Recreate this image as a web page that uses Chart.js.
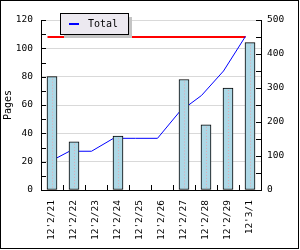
<!DOCTYPE html>
<html><head><meta charset="utf-8">
<script src="https://cdn.jsdelivr.net/npm/chart.js@4.4.1/dist/chart.umd.min.js"></script>
<style>
html,body{margin:0;padding:0;background:#fff;}
#wrap{position:relative;width:300px;height:250px;overflow:hidden;}
canvas{position:absolute;left:0;top:0;}
#frame{position:absolute;left:0;top:0;width:299px;height:249px;box-sizing:border-box;border:1px solid #000;pointer-events:none;}
</style></head><body>
<div id="wrap"><canvas id="c" width="300" height="250"></canvas><div id="frame"></div></div>
<script>
// ---- data ----
const categories = ["12'2/21","12'2/22","12'2/23","12'2/24","12'2/25","12'2/26","12'2/27","12'2/28","12'2/29","12'3/1"];
const pages  = [80, 34, null, 38, null, null, 78, 46, 72, 104];   // bars, left axis
const total  = [80, 114, 114, 152, 152, 152, 230, 278, 350, 452]; // blue line, right axis
const target = [450, 450, 450, 450, 450, 450, 450, 450, 450, 450]; // red line, right axis
const leftTickLabels  = [0, 20, 40, 60, 80, 100, 120];
const rightTickLabels = [0, 100, 200, 300, 400, 500];

const FONT = {family: "'DejaVu Sans Mono', monospace", size: 9.5};
Chart.defaults.font.family = FONT.family;
Chart.defaults.font.size = 9.5;
Chart.defaults.color = '#000';

const BAR_W = 10;

const extras = {
  id: 'extras',
  beforeDatasetDraw(chart, args) {
    if (chart.data.datasets[args.index].type === 'line') {
      chart.ctx.save();
      chart.ctx.translate(-BAR_W / 2 + 0.5, 0); // lines are anchored at the bar's left edge
    }
  },
  afterDatasetDraw(chart, args) {
    if (chart.data.datasets[args.index].type === 'line') chart.ctx.restore();
  },
  afterDatasetsDraw(chart) {
    const ctx = chart.ctx;
    const meta = chart.getDatasetMeta(2);
    ctx.save();
    ctx.strokeStyle = '#e3a9b3';
    ctx.lineWidth = 1;
    ctx.setLineDash([1, 2]);
    meta.data.forEach((el, i) => {
      if (pages[i] == null) return;
      const x = Math.round(el.x) + 0.5;
      ctx.beginPath();
      ctx.moveTo(x, el.y + 2);
      ctx.lineTo(x, el.base - 1);
      ctx.stroke();
    });
    ctx.restore();
  },
  afterDraw(chart) {
    const ctx = chart.ctx;
    const {left, right, bottom} = chart.chartArea;
    ctx.save();
    ctx.strokeStyle = '#000';
    ctx.lineWidth = 1;
    const y = chart.scales.y, y1 = chart.scales.y1, x = chart.scales.x;
    y.ticks.forEach(t => {
      const py = Math.round(y.getPixelForValue(t.value)) + 0.5;
      ctx.beginPath(); ctx.moveTo(left, py); ctx.lineTo(left + 5, py); ctx.stroke();
    });
    y1.ticks.forEach(t => {
      const py = Math.round(y1.getPixelForValue(t.value)) + 0.5;
      ctx.beginPath(); ctx.moveTo(right - 5, py); ctx.lineTo(right, py); ctx.stroke();
    });
    for (let i = 1; i < categories.length; i++) {
      const px = Math.round((x.getPixelForTick(i - 1) + x.getPixelForTick(i)) / 2) + 0.5;
      ctx.beginPath(); ctx.moveTo(px, bottom - 5); ctx.lineTo(px, bottom); ctx.stroke();
    }
    // legend
    const lx = 60, ly = 13, lw = 68, lh = 21;
    ctx.fillStyle = '#c4c4c4';
    ctx.fillRect(lx + 4, ly + 4, lw, lh);
    ctx.fillStyle = '#ece9f0';
    ctx.fillRect(lx, ly, lw, lh);
    ctx.strokeRect(lx + 0.5, ly + 0.5, lw, lh);
    const ds = chart.data.datasets[0];
    ctx.fillStyle = ds.borderColor;
    ctx.fillRect(lx + 9, ly + 10, 10, 2);
    ctx.fillStyle = '#000';
    ctx.font = "10px 'DejaVu Sans Mono'";
    ctx.textBaseline = 'middle';
    ctx.textAlign = 'left';
    ctx.fillText(ds.label, lx + 28, ly + 11);
    ctx.restore();
  }
};

new Chart(document.getElementById('c'), {
  type: 'bar',
  data: {
    labels: categories,
    datasets: [
      {type: 'line', label: 'Total', data: total,
       xAxisID: 'x', yAxisID: 'y1', borderColor: '#0000ff', borderWidth: 1,
       pointRadius: 0, tension: 0, fill: false, order: 2},
      {type: 'line', label: 'Target', data: target,
       xAxisID: 'x', yAxisID: 'y1', borderColor: '#ff0000', borderWidth: 2,
       pointRadius: 0, tension: 0, fill: false, order: 2},
      {type: 'bar', label: 'Pages', data: pages, xAxisID: 'x', yAxisID: 'y',
       backgroundColor: '#add8e6', borderColor: '#000', borderWidth: 1,
       borderSkipped: false, barThickness: BAR_W, order: 1}
    ]
  },
  options: {
    responsive: false,
    animation: false,
    devicePixelRatio: 1,
    layout: {padding: {top: 20, left: 0, right: 0, bottom: 0}},
    plugins: {legend: {display: false}, tooltip: {enabled: false}},
    scales: {
      x: {
        type: 'category', offset: true,
        grid: {display: false, drawTicks: false},
        border: {display: true, color: '#000'},
        ticks: {minRotation: 90, maxRotation: 90, autoSkip: false, padding: 10, color: '#000', font: FONT},
        afterFit(s) { s.height = 60; }
      },
      y: {
        position: 'left', min: 0, max: 120,
        grid: {drawTicks: false,
               color: c => (c.tick && c.tick.value > 0 && leftTickLabels.includes(c.tick.value)) ? '#d9d9d9' : 'rgba(0,0,0,0)'},
        border: {display: true, color: '#000'},
        ticks: {stepSize: 10, autoSkip: false, padding: 8, color: '#000', font: FONT,
                callback: v => leftTickLabels.includes(v) ? String(v) : ''},
        title: {display: true, text: 'Pages', color: '#000', font: {family: FONT.family, size: 10}, padding: {top: 2, bottom: 0}},
        afterFit(s) { s.width = 41; }
      },
      y1: {
        position: 'right', min: 0, max: 500,
        grid: {display: false, drawTicks: false},
        border: {display: true, color: '#000'},
        ticks: {stepSize: 50, autoSkip: false, padding: 6, color: '#000', font: FONT,
                callback: v => rightTickLabels.includes(v) ? String(v) : ''},
        afterFit(s) { s.width = 39; }
      }
    }
  },
  plugins: [extras]
});
</script>
</body></html>
